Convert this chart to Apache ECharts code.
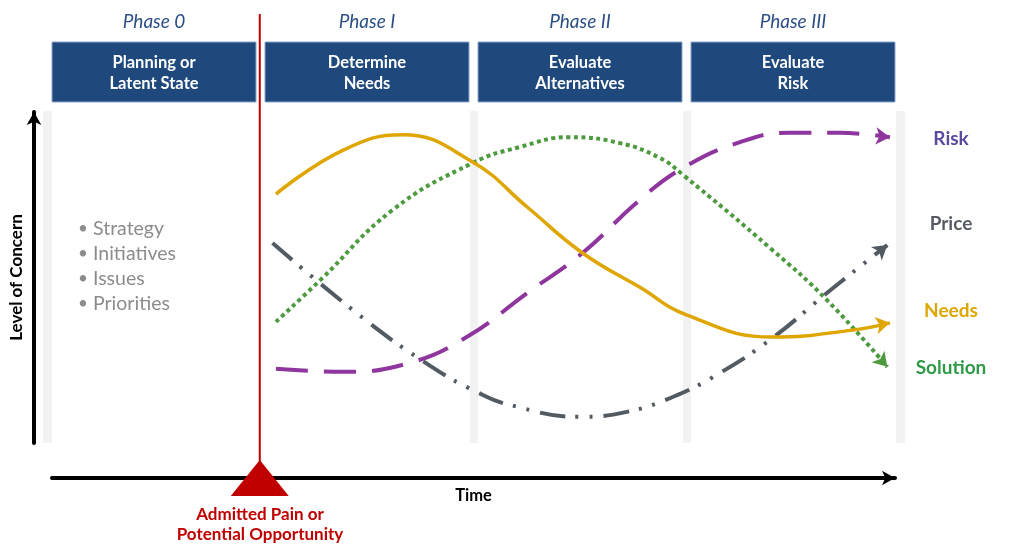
<!DOCTYPE html>
<html><head><meta charset="utf-8">
<script src="https://cdn.jsdelivr.net/npm/echarts@6/dist/echarts.min.js"></script>
<style>html,body{margin:0;padding:0;background:#fff}#c{width:1024px;height:556px}</style>
</head><body><div id="c"></div>
<script>
// ---- data (time in % of axis, level of concern 0-100) ----
const phaseNames = ['Phase 0', 'Phase I', 'Phase II', 'Phase III'];
const phaseTitles = ['Planning or\nLatent State', 'Determine\nNeeds', 'Evaluate\nAlternatives', 'Evaluate\nRisk'];
const bullets = ['Strategy', 'Initiatives', 'Issues', 'Priorities'];
const seriesNames = ['Needs', 'Solution', 'Risk', 'Price'];

const needsT = [26.3, 34.2, 41.2, 49.4, 55.8, 62.3, 69.0, 74.5, 84.6, 94.0, 98.4];
const needsL = [75.2, 88.5, 93.1, 84.9, 71.3, 57.4, 47.1, 38.7, 32.0, 34.1, 36.3];
const solutionT = [26.3, 31.5, 40.0, 49.4, 54.9, 60.8, 66.7, 71.4, 74.1, 84.6, 91.0, 98.1];
const solutionL = [36.6, 49.2, 70.4, 84.6, 89.4, 92.4, 90.6, 86.1, 81.0, 58.3, 43.2, 23.0];
const riskT = [26.3, 34.2, 42.0, 48.7, 55.8, 62.3, 69.0, 74.1, 80.8, 86.6, 92.5, 98.4];
const riskL = [22.4, 21.5, 24.2, 32.0, 45.3, 57.4, 73.4, 83.1, 90.9, 93.7, 93.7, 92.4];
const priceT = [25.9, 36.5, 44.6, 49.9, 53.8, 62.0, 67.5, 72.9, 78.4, 84.6, 91.0, 98.1];
const priceL = [60.4, 37.8, 23.0, 15.4, 11.5, 7.9, 9.4, 13.9, 21.1, 31.7, 45.3, 59.8];
const eventT = 24.4; // "Admitted Pain or Potential Opportunity"

const FONT = 'Lato';
const colors = { Needs: '#DFA500', Solution: '#4E9B3F', Risk: '#8E369E', Price: '#525A62' };
const labelColors = { Needs: '#DFA500', Solution: '#2F9A47', Risk: '#5D48A0', Price: '#545B64' };
const styles = {
  Needs: { type: 'solid', width: 3.5 },
  Solution: { type: [4, 3.5], width: 4 },
  Risk: { type: [32, 16], width: 4 },
  Price: { type: [26, 10, 3, 11, 3, 11], width: 4 }
};
const tArr = { Needs: needsT, Solution: solutionT, Risk: riskT, Price: priceT };
const lArr = { Needs: needsL, Solution: solutionL, Risk: riskL, Price: priceL };

const chart = echarts.init(document.getElementById('c'), null, { renderer: 'canvas' });

function mkSeries(rot) {
  return seriesNames.map((n, i) => {
    const T = tArr[n], L = lArr[n];
    const data = T.map((t, j) => {
      if (j === T.length - 1) {
        return { value: [t, L[j]], symbol: 'arrow', symbolSize: [13, 14], symbolRotate: rot ? rot[i] : 0,
                 itemStyle: { color: colors[n] } };
      }
      return { value: [t, L[j]], symbol: 'none' };
    });
    return {
      name: n, type: 'line', smooth: 0.45, symbol: 'none', showAllSymbol: true,
      lineStyle: { color: colors[n], width: styles[n].width, type: styles[n].type, cap: 'butt' },
      itemStyle: { color: colors[n] }, z: 5 + (n === 'Needs' ? 1 : 0),
      data, silent: true, animation: false
    };
  });
}

// static decoration
const G = [];
[[43, 52], [470, 478], [683, 691], [896, 905]].forEach(([a, b]) =>
  G.push({ type: 'rect', shape: { x: a, y: 111, width: b - a, height: 332 }, style: { fill: '#F2F2F2' }, z: 0 }));
const boxX = [52, 265, 478, 691];
boxX.forEach((x, i) => {
  G.push({ type: 'rect', shape: { x: x, y: 42, width: 204, height: 60 }, style: { fill: '#1F497D', stroke: '#8DA7CC', lineWidth: 1 }, z: 10 });
  G.push({ type: 'text', x: x + 102, y: 73.5, style: { text: phaseTitles[i], fill: '#fff', font: 'bold 16.5px ' + FONT, align: 'center', verticalAlign: 'middle', lineHeight: 21 }, z: 11 });
  G.push({ type: 'text', x: x + 102, y: 22, style: { text: phaseNames[i], fill: '#2C4F86', font: 'italic 19px ' + FONT, align: 'center', verticalAlign: 'middle' }, z: 11 });
});
bullets.forEach((b, i) => {
  G.push({ type: 'text', x: 78, y: 229 + i * 25, style: { text: '•', fill: '#8C8C8C', font: '17px ' + FONT, align: 'left', verticalAlign: 'middle' }, z: 11 });
  G.push({ type: 'text', x: 93, y: 229 + i * 25, style: { text: b, fill: '#8C8C8C', font: '19.5px ' + FONT, align: 'left', verticalAlign: 'middle' }, z: 11 });
});
const labY = { Risk: 139, Price: 224, Needs: 311, Solution: 368 };
seriesNames.forEach(n => {
  G.push({ type: 'text', x: 951, y: labY[n], style: { text: n, fill: labelColors[n], font: 'bold 19px ' + FONT, align: 'center', verticalAlign: 'middle' }, z: 11 });
});
G.push({ type: 'text', x: 260, y: 524.5, style: { text: 'Admitted Pain or\nPotential Opportunity', fill: '#C00000', font: 'bold 17px ' + FONT, align: 'center', verticalAlign: 'middle', lineHeight: 20 }, z: 11 });

const option = {
  animation: false,
  backgroundColor: '#fff',
  grid: { left: 52, right: 129, top: 112, bottom: 113, outerBoundsMode: 'none', containLabel: false },
  xAxis: {
    type: 'value', min: 0, max: 99, offset: 35, position: 'bottom',
    name: 'Time', nameLocation: 'middle', nameGap: 9,
    nameTextStyle: { color: '#000', fontWeight: 'bold', fontSize: 16.5, fontFamily: FONT },
    axisLine: { show: true, onZero: false, symbol: ['none', 'arrow'], symbolSize: [11, 13], lineStyle: { color: '#000', width: 4 } },
    axisTick: { show: false }, axisLabel: { show: false }, splitLine: { show: false }
  },
  yAxis: {
    type: 'value', min: 0, max: 100, offset: 18, position: 'left',
    name: 'Level of Concern', nameLocation: 'middle', nameGap: 9, nameRotate: 90,
    nameTextStyle: { color: '#000', fontWeight: 'bold', fontSize: 17, fontFamily: FONT },
    axisLine: { show: true, onZero: false, symbol: ['none', 'arrow'], symbolSize: [11, 13], lineStyle: { color: '#000', width: 4 } },
    axisTick: { show: false }, axisLabel: { show: false }, splitLine: { show: false }
  },
  graphic: G,
  series: mkSeries(null)
};
chart.setOption(option);

const rot = seriesNames.map((n, i) => {
  const T = tArr[n], L = lArr[n], k = T.length - 1;
  const p1 = chart.convertToPixel({ seriesIndex: i }, [T[k - 1] + (T[k] - T[k - 1]) * 0.6, L[k - 1] + (L[k] - L[k - 1]) * 0.6]);
  const p2 = chart.convertToPixel({ seriesIndex: i }, [T[k], L[k]]);
  const ang = Math.atan2(-(p2[1] - p1[1]), p2[0] - p1[0]) * 180 / Math.PI;
  return ang - 90;
});
const ex = chart.convertToPixel({ xAxisIndex: 0 }, eventT);
const G2 = G.concat([
  { type: 'line', shape: { x1: ex, y1: 14, x2: ex, y2: 462 }, style: { stroke: '#C00000', lineWidth: 2 }, z: 12 },
  { type: 'polygon', shape: { points: [[ex, 460], [ex - 29, 496], [ex + 29, 496]] }, style: { fill: '#C00000' }, z: 12 }
]);
chart.setOption({ series: mkSeries(rot), graphic: G2 }, { replaceMerge: ['graphic'] });
</script></body></html>
